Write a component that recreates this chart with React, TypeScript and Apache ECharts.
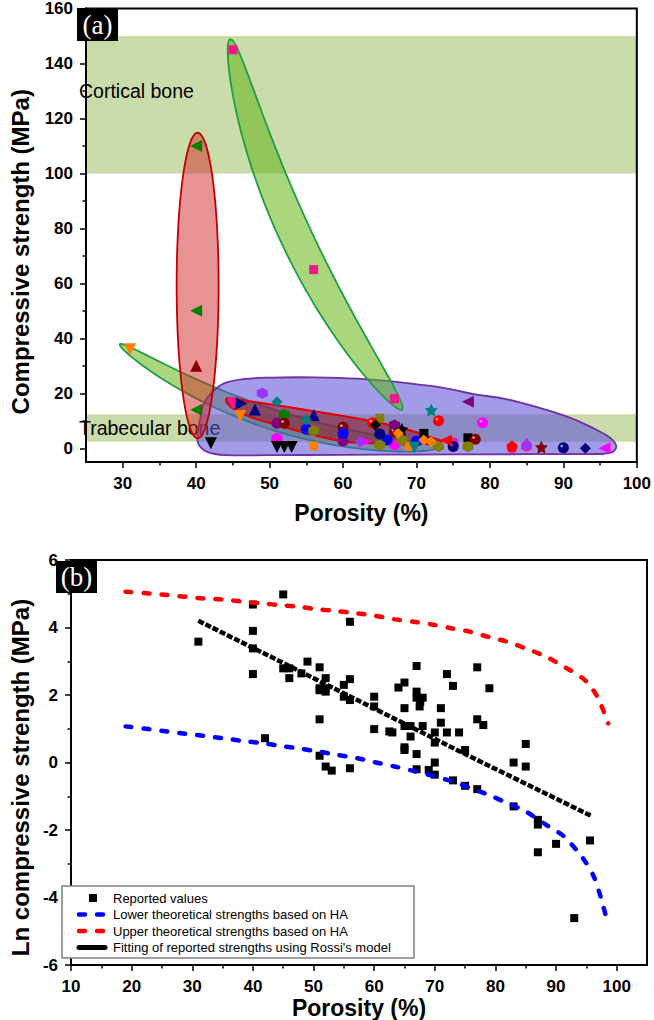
import React, { useEffect, useRef } from "react";
import * as echarts from "echarts";

const FONT = "'Liberation Sans', Arial, sans-serif";
const SERIF = "'Liberation Serif', 'Times New Roman', serif";

// ---------- Panel (a): axes ----------
const xTicksA = [30, 40, 50, 60, 70, 80, 90, 100];
const xMinorA = [35, 45, 55, 65, 75, 85, 95];
const yTicksA = [0, 20, 40, 60, 80, 100, 120, 140, 160];
const yMinorA = [10, 30, 50, 70, 90, 110, 130, 150];

// bone bands (MPa)
const corticalRange = [100, 150];
const trabecularRange = [2.4, 12.4];

// grouped regions (data space)
const greenLowAxis = [[29.6, 37.8], [72.8, 0.1]];
const redVerticalAxis = [[40.2, 114.8], [40.2, 3.6]];
const greenHighAxis = [[44.6, 148.8], [68.0, 14.0]];
const purpleRegion = [
  [41.0, 16], [42.0, 20.0], [43.8, 23.6], [46.5, 25.2], [50, 25.7], [56, 25.8], [62, 25.3],
  [69, 23.6], [74, 21.8], [78, 19.6], [82, 18.0], [87, 14.5], [90.5, 11.5], [93, 8.7],
  [95, 6], [96.5, 3.5], [97.2, 0.8], [96.8, -1.2], [95.5, -2], [90, -2.1], [80, -2.2],
  [70, -2.3], [60, -2.4], [50, -2.5], [44, -2.5], [41.5, -1.3], [40.3, 1.5], [40.2, 5], [40.5, 10],
];
const redBandRegion = [
  [44.2, 18.2], [48, 16.8], [52, 15.2], [56, 13.5], [60, 11.7], [64, 9.8], [67, 8], [70, 5.8],
  [72.5, 3.5], [73.5, 2.6], [72.5, 1.8], [68, 1.5], [64, 1.8], [60, 2.5], [56, 4.8], [52, 7.7],
  [48, 10.8], [45.5, 13.6], [44.2, 16.5],
];

// reported compressive strengths (porosity %, MPa) grouped by marker
const pinkSquares = [[45, 145], [56, 65], [67, 18]];
const greenLeftTri = [[40, 110], [40, 50], [40, 14]];
const maroonUpTri = [[40, 30]];
const orangeDownTri = [[31, 36], [46, 11.7]];
const blackDownTri = [[42, 1.8], [51, 0.5], [52, 0.5], [53, 0.5]];
const violetHex = [[49, 20]];
const pinkDownTri = [[45, 16.3]];
const navyRightTri = [[46.2, 16.3]];
const navyUpTri = [[48, 14.1], [56, 12.1]];
const tealDiamond = [[51, 16.9], [55, 10.3]];
const greenHex = [[52, 12.3]];
const purpleCircle = [[51, 9.1], [60, 2.6]];
const maroonSphere = [[52, 9.1], [60, 7.6], [67, 6.0], [78, 3.3]];
const magentaHex = [[51, 3.6], [67, 1.2]];
const blueCircle = [[55, 6.9], [60, 5.4], [66, 3.0], [70, 2.6]];
const oliveHex = [[56, 6.4], [65, 1.2], [68, 3.0], [73, 0.6], [77, 0.6]];
const orangeSquare = [[56, 0.8], [69, 0.8]];
const redSphere = [[64, 9.3], [73, 10.0]];
const oliveSquare = [[65, 10.9]];
const blackDiamond = [[64.4, 8.5]];
const purpleHex = [[67, 8.5]];
const tealStar = [[72, 13.9]];
const purpleLeftTri = [[77, 16.9]];
const magentaSphere = [[79, 9.3]];
const blackStar = [[68, 6.9]];
const orangeDiamond = [[67.5, 5.5], [71, 3.0], [72, 2.4]];
const navyCircle = [[65, 5.2]];
const navySphere = [[75, 0.6], [90, 0.2]];
const blackSquare = [[71, 5.4], [77, 3.8]];
const magentaRightTri = [[63, 2.5]];
const violetDiamond = [[62.3, 2.5]];
const redLeftTri = [[74, 2.8]];
const pinkCircle = [[75, 2], [85, 0.8], [83, 0.2]];
const redPentagon = [[83, 0.8]];
const violetUpTri = [[85, 1.8]];
const maroonStar = [[87, 0.4]];
const navyDiamond = [[93, 0]];
const magentaLeftTri = [[95.6, 0]];
const tealDownTri = [[69.7, 0.3]];

// ---------- Panel (b) ----------
const xTicksB = [10, 20, 30, 40, 50, 60, 70, 80, 90, 100];
const xMinorB = [15, 25, 35, 45, 55, 65, 75, 85, 95];
const lnReported = [
  [31, 3.58], [40, 4.68], [40, 3.9], [40, 3.38], [40, 2.62], [45, 4.98], [56, 4.17], [42, 0.72],
  [45, 2.79], [46, 2.79], [46, 2.5], [48, 2.64], [49, 2.99], [51, 2.82], [51, 2.2], [51, 2.14],
  [51, 1.28], [51, 0.2], [52, 2.5], [52, 2.2], [52, 2.1], [52, -0.12], [53, -0.24], [55, 2.3], [56, 2.47],
  [55, 1.95], [56, 1.85], [56, -0.17], [60, 1.95], [60, 1.66], [60, 0.99], [62.5, 0.92], [63, 0.89],
  [64, 2.22], [65, 2.37], [65, 1.61], [65, 1.08], [65, 0.37], [65, 0.45], [67, 2.86], [67, 2.1],
  [67, 1.92], [68, 1.92], [67.5, 1.66], [67.6, 1.8], [66, 1.08], [66, 0.77], [67, 0.25], [67, -0.2],
  [68, 1.08], [69, -0.22], [70, 0.89], [70, 0.59], [70, 0.0], [70, -0.36], [71, 1.61], [71, 1.18],
  [72, 2.62], [73, 2.27], [72, 0.89], [74, 0.89], [73, -0.53], [75, 0.37], [75, -0.69], [77, 2.82],
  [77, 1.28], [78, 1.11], [77, -0.79], [79, 2.2], [83, 0.0], [83, -1.3], [85, 0.55], [85, -0.12],
  [87, -1.7], [87, -1.84], [87, -2.66], [90, -2.41], [95.6, -2.31], [93, -4.61],
];
const upperHA = [
  [19, 5.06], [22.8, 5.01], [25.9, 4.96], [28.9, 4.91], [31.9, 4.86], [35, 4.83], [38.6, 4.76],
  [41.6, 4.71], [44.7, 4.66], [47.7, 4.61], [50.7, 4.54], [53.7, 4.49], [57.1, 4.42], [60.1, 4.35],
  [63.4, 4.24], [66.5, 4.17], [69.5, 4.09], [72.9, 3.97], [75.9, 3.87], [78.9, 3.72], [81.9, 3.58],
  [85, 3.38], [88.3, 3.14], [91.3, 2.84], [94.7, 2.45], [96.8, 1.95], [98.6, 1.16],
];
const lowerHA = [
  [19, 1.07], [22.8, 0.99], [25.9, 0.92], [28.9, 0.85], [31.9, 0.79], [35, 0.72], [38.3, 0.64],
  [41.6, 0.57], [44.7, 0.49], [47.7, 0.41], [50.7, 0.33], [53.7, 0.23], [57.1, 0.13], [60.1, 0.01],
  [63.4, -0.12], [66.5, -0.25], [69.5, -0.39], [72.9, -0.56], [75.9, -0.76], [78.9, -0.96],
  [81.9, -1.2], [85, -1.45], [88.3, -1.84], [91.3, -2.19], [94.4, -2.83], [96.2, -3.37],
  [97.4, -4.01], [98.3, -4.61],
];
const rossiFit = [[31, 4.2], [45, 2.95], [60, 1.6], [75, 0.25], [96, -1.6]];

const legendNames = [
  "Reported values",
  "Lower theoretical strengths based on HA",
  "Upper theoretical strengths based on HA",
  "Fitting of reported strengths using Rossi's model",
];

// ---------- styles ----------
const HEX = "path://M0,-10L8.66,-5L8.66,5L0,10L-8.66,5L-8.66,-5Z";
const PENT = "path://M0,-10L9.51,-3.09L5.88,8.09L-5.88,8.09L-9.51,-3.09Z";
const STAR = "path://M0,-10L2.94,-4.05L9.51,-3.09L4.76,1.55L5.88,8.09L0,5L-5.88,8.09L-4.76,1.55L-9.51,-3.09L-2.94,-4.05Z";
const sphere = (c: string) => ({
  type: "radial", x: 0.35, y: 0.35, r: 0.75,
  colorStops: [{ offset: 0, color: "#ffffff" }, { offset: 0.22, color: c }, { offset: 1, color: c }],
});

const markerGroups: any[] = [
  { d: pinkSquares, s: "rect", c: "#f0168c", z: 9 },
  { d: greenLeftTri, s: "triangle", r: 90, c: "#008000", z: 11 },
  { d: maroonUpTri, s: "triangle", c: "#8b0000", z: 11 },
  { d: orangeDownTri, s: "triangle", r: 180, c: "#ff8000", z: 11 },
  { d: blackDownTri, s: "triangle", r: 180, c: "#000000", z: 11 },
  { d: violetHex, s: HEX, c: "#9933ff", z: 11 },
  { d: pinkDownTri, s: "triangle", r: 180, c: "#ff1493", z: 11 },
  { d: navyRightTri, s: "triangle", r: -90, c: "#000080", z: 11 },
  { d: navyUpTri, s: "triangle", c: "#000080", z: 11 },
  { d: tealDiamond, s: "diamond", c: "#008080", z: 12 },
  { d: greenHex, s: HEX, c: "#008000", z: 10 },
  { d: purpleCircle, s: "circle", c: "#800080", z: 10 },
  { d: maroonSphere, s: "circle", c: sphere("#800000"), z: 10 },
  { d: magentaHex, s: HEX, c: "#ff00ff", z: 10 },
  { d: blueCircle, s: "circle", c: "#0000ff", z: 10 },
  { d: oliveHex, s: HEX, c: "#808000", z: 10 },
  { d: orangeSquare, s: "rect", c: "#ff8000", z: 9 },
  { d: redSphere, s: "circle", c: sphere("#ff0000"), z: 10 },
  { d: oliveSquare, s: "rect", c: "#808000", z: 9 },
  { d: blackDiamond, s: "diamond", c: "#000000", z: 12 },
  { d: purpleHex, s: HEX, c: "#800080", z: 10 },
  { d: tealStar, s: STAR, c: "#008080", z: 12 },
  { d: purpleLeftTri, s: "triangle", r: 90, c: "#800080", z: 11 },
  { d: magentaSphere, s: "circle", c: sphere("#ff00ff"), z: 10 },
  { d: blackStar, s: STAR, c: "#000000", z: 12 },
  { d: orangeDiamond, s: "diamond", c: "#ff8000", z: 12 },
  { d: navyCircle, s: "circle", c: "#000080", z: 10 },
  { d: navySphere, s: "circle", c: sphere("#000080"), z: 10 },
  { d: blackSquare, s: "rect", c: "#000000", z: 9 },
  { d: magentaRightTri, s: "triangle", r: -90, c: "#ff00ff", z: 11 },
  { d: violetDiamond, s: "diamond", c: "#9933ff", z: 12 },
  { d: redLeftTri, s: "triangle", r: 90, c: "#ff0000", z: 11 },
  { d: pinkCircle, s: "circle", c: "#ff1493", z: 9 },
  { d: redPentagon, s: PENT, c: "#ff0000", z: 10 },
  { d: violetUpTri, s: "triangle", c: "#9933ff", z: 11 },
  { d: maroonStar, s: STAR, c: "#800000", z: 12 },
  { d: navyDiamond, s: "diamond", c: "#000080", z: 12 },
  { d: magentaLeftTri, s: "triangle", r: 90, c: "#ff00ff", z: 11 },
  { d: tealDownTri, s: "triangle", r: 180, c: "#008080", z: 11 },
];

const regionDefs: any[] = [
  { axis: greenLowAxis, w: 10, bend: 24, fill: "rgba(100,180,20,0.55)", stroke: "#1e9e46", lw: 1.8 },
  { outline: purpleRegion, fill: "rgba(90,76,214,0.56)", stroke: "#7030a0", lw: 1.8 },
  { axis: redVerticalAxis, w: 21, bend: 0, fill: "rgba(210,40,40,0.5)", stroke: "#c00000", lw: 1.8 },
  { axis: greenHighAxis, w: 16, bend: 23, fill: "rgba(100,180,20,0.55)", stroke: "#1e9e46", lw: 1.8 },
  { outline: redBandRegion, fill: "rgba(150,10,20,0.5)", stroke: "#e00000", lw: 2 },
];

const tickLabel = { color: "#000", fontSize: 17, fontWeight: "bold", fontFamily: FONT };
const nameStyle = { color: "#000", fontSize: 23, fontWeight: "bold", fontFamily: FONT };
const tickLine = { color: "#000", width: 1.5 };

export default function App() {
  const ref = useRef<HTMLDivElement>(null);
  useEffect(() => {
    const chart = echarts.init(ref.current!, null, { renderer: "svg" });

    const renderRegion = (params: any, api: any) => {
      const def = regionDefs[api.value(2)];
      let pts: number[][] = [];
      if (def.axis) {
        const pa = api.coord(def.axis[0]);
        const pb = api.coord(def.axis[1]);
        const mx = (pa[0] + pb[0]) / 2, my = (pa[1] + pb[1]) / 2;
        const dx = pb[0] - pa[0], dy = pb[1] - pa[1];
        const len = Math.hypot(dx, dy), L = len / 2;
        const ux = dx / len, uy = dy / len, nx = -uy, ny = ux;
        for (let k = 0; k < 96; k++) {
          const t = (2 * Math.PI * k) / 96;
          const c = Math.cos(t), s = Math.sin(t);
          const off = def.bend * (1 - c * c) + s * def.w;
          pts.push([mx + c * L * ux + off * nx, my + c * L * uy + off * ny]);
        }
      } else {
        pts = def.outline.map((p: number[]) => api.coord(p));
      }
      return {
        type: "polygon",
        shape: { points: pts, smooth: def.axis ? 0 : 0.35 },
        style: { fill: def.fill, stroke: def.stroke, lineWidth: def.lw },
      };
    };

    const scatterA = markerGroups.map((g) => ({
      type: "scatter",
      xAxisIndex: 0,
      yAxisIndex: 0,
      data: g.d,
      symbol: g.s,
      symbolRotate: g.r || 0,
      symbolSize: g.s === "rect" ? 9 : g.s === "triangle" ? 12 : g.s === STAR ? 13 : 11,
      itemStyle: { color: g.c, opacity: 1 },
      z: g.z,
      silent: true,
    }));

    const option: any = {
      animation: false,
      backgroundColor: "#ffffff",
      grid: [
        { left: 76, top: 7, width: 562, height: 455, show: true, borderColor: "#000", borderWidth: 2, backgroundColor: "transparent", z: 20 },
        { left: 55, top: 560, width: 592, height: 406, show: true, borderColor: "#000", borderWidth: 2, backgroundColor: "transparent" },
      ],
      xAxis: [
        {
          gridIndex: 0, type: "value", min: 25, max: 100, position: "bottom",
          axisLine: { onZero: false, lineStyle: { color: "#000", width: 2 } },
          axisTick: { length: 6, lineStyle: tickLine, customValues: xTicksA },
          axisLabel: { ...tickLabel, margin: 13, customValues: xTicksA },
          splitLine: { show: false },
          name: "Porosity (%)", nameLocation: "middle", nameGap: 39, nameTextStyle: nameStyle,
        },
        {
          gridIndex: 0, type: "value", min: 25, max: 100, position: "bottom",
          axisLine: { show: false, onZero: false },
          axisTick: { length: 3.5, lineStyle: tickLine, customValues: xMinorA },
          axisLabel: { show: false, customValues: xMinorA },
          splitLine: { show: false },
        },
        {
          gridIndex: 1, type: "value", min: 10, max: 105, position: "bottom",
          axisLine: { onZero: false, lineStyle: { color: "#000", width: 2 } },
          axisTick: { length: 6, lineStyle: tickLine, customValues: xTicksB },
          axisLabel: { ...tickLabel, margin: 13, customValues: xTicksB },
          splitLine: { show: false },
          name: "Porosity (%)", nameLocation: "middle", nameGap: 31, nameTextStyle: nameStyle,
        },
        {
          gridIndex: 1, type: "value", min: 10, max: 105, position: "bottom",
          axisLine: { show: false, onZero: false },
          axisTick: { length: 3.5, lineStyle: tickLine, customValues: xMinorB },
          axisLabel: { show: false, customValues: xMinorB },
          splitLine: { show: false },
        },
      ],
      yAxis: [
        {
          gridIndex: 0, type: "value", min: -5, max: 160, position: "left",
          axisLine: { onZero: false, lineStyle: { color: "#000", width: 2 } },
          axisTick: { length: 6, lineStyle: tickLine, customValues: yTicksA },
          axisLabel: { ...tickLabel, margin: 13, customValues: yTicksA },
          splitLine: { show: false },
          name: "Compressive strength (MPa)", nameLocation: "middle", nameGap: 54,
          nameTextStyle: { ...nameStyle, fontSize: 24, padding: [0, 33, 0, 0] },
        },
        {
          gridIndex: 0, type: "value", min: -5, max: 160, position: "left",
          axisLine: { show: false, onZero: false },
          axisTick: { length: 3.5, lineStyle: tickLine, customValues: yMinorA },
          axisLabel: { show: false, customValues: yMinorA },
          splitLine: { show: false },
        },
        {
          gridIndex: 1, type: "value", min: -6, max: 6, interval: 2, position: "left",
          axisLine: { onZero: false, lineStyle: { color: "#000", width: 2 } },
          axisTick: { length: 6, lineStyle: tickLine },
          minorTick: { show: true, splitNumber: 2, length: 3.5, lineStyle: tickLine },
          axisLabel: { ...tickLabel, margin: 13 },
          splitLine: { show: false },
          name: "Ln compressive strength (MPa)", nameLocation: "middle", nameGap: 31,
          nameTextStyle: { ...nameStyle, fontSize: 24, padding: [0, 30, 0, 0] },
        },
      ],
      series: [
        {
          type: "line", xAxisIndex: 0, yAxisIndex: 0, data: [], silent: true, z: 1,
          markArea: {
            silent: true,
            itemStyle: { color: "#cadcaa", opacity: 1 },
            label: { show: true, position: "insideLeft", distance: 3, color: "#000", fontSize: 19.5, fontFamily: FONT },
            data: [
              [{ name: "Cortical bone", coord: [25, corticalRange[0]], label: { offset: [-10, -14] } }, { coord: [100, corticalRange[1]] }],
              [{ name: "Trabecular bone", coord: [25, trabecularRange[0]], label: { offset: [-10, 0] } }, { coord: [100, trabecularRange[1]] }],
            ],
          },
        },
        {
          type: "custom", xAxisIndex: 0, yAxisIndex: 0, silent: true, z: 3,
          renderItem: renderRegion,
          data: regionDefs.map((_, i) => [60, 60, i]),
          encode: { x: 0, y: 1 },
        },
        ...scatterA,
        {
          name: legendNames[0], type: "scatter", xAxisIndex: 2, yAxisIndex: 2, data: lnReported,
          symbol: "rect", symbolSize: 8, itemStyle: { color: "#000", opacity: 1 }, z: 5, silent: true,
        },
        {
          name: legendNames[1], type: "line", xAxisIndex: 2, yAxisIndex: 2, data: lowerHA, smooth: 0.3,
          symbol: "none", lineStyle: { color: "#0000ff", width: 4.5, type: [6, 12], cap: "round" }, z: 6, silent: true,
        },
        {
          name: legendNames[2], type: "line", xAxisIndex: 2, yAxisIndex: 2, data: upperHA, smooth: 0.3,
          symbol: "none", lineStyle: { color: "#ff0000", width: 4.5, type: [6, 12], cap: "round" }, z: 6, silent: true,
        },
        {
          name: legendNames[3], type: "line", xAxisIndex: 2, yAxisIndex: 2, data: rossiFit, smooth: false,
          symbol: "none", lineStyle: { color: "#000000", width: 4.5, type: [6, 2] }, z: 6, silent: true,
        },
      ],
      graphic: [
        { type: "rect", z: 100, shape: { x: 77, y: 8, width: 41, height: 33 }, style: { fill: "#000" } },
        { type: "text", z: 101, x: 97.5, y: 25, style: { text: "(a)", fill: "#fff", font: `27px ${SERIF}`, align: "center", verticalAlign: "middle" } },
        { type: "rect", z: 100, shape: { x: 56, y: 561, width: 41, height: 32 }, style: { fill: "#000" } },
        { type: "text", z: 101, x: 76.5, y: 577, style: { text: "(b)", fill: "#fff", font: `27px ${SERIF}`, align: "center", verticalAlign: "middle" } },
        { type: "rect", z: 100, shape: { x: 62, y: 886, width: 352, height: 72 }, style: { fill: "#fff", stroke: "#808080", lineWidth: 1.5 } },
        { type: "rect", z: 101, shape: { x: 89, y: 894, width: 8, height: 8 }, style: { fill: "#000" } },
        { type: "line", z: 101, shape: { x1: 79, y1: 914.5, x2: 105, y2: 914.5 }, style: { stroke: "#0000ff", lineWidth: 4.5, lineDash: [6, 12], lineCap: "round" } },
        { type: "line", z: 101, shape: { x1: 79, y1: 931, x2: 105, y2: 931 }, style: { stroke: "#ff0000", lineWidth: 4.5, lineDash: [6, 12], lineCap: "round" } },
        { type: "line", z: 101, shape: { x1: 79, y1: 947.5, x2: 105, y2: 947.5 }, style: { stroke: "#000", lineWidth: 5, lineCap: "round" } },
        ...legendNames.map((n, i) => ({
          type: "text", z: 101, x: 113, y: [898, 914.5, 931, 947.5][i],
          style: { text: n, fill: "#000", font: `13px ${FONT}`, verticalAlign: "middle" },
        })),
      ],
    };
    chart.setOption(option);
    return () => chart.dispose();
  }, []);
  return <div ref={ref} style={{ position: "fixed", left: 0, top: 0, width: 654, height: 1020, background: "#fff" }} />;
}
